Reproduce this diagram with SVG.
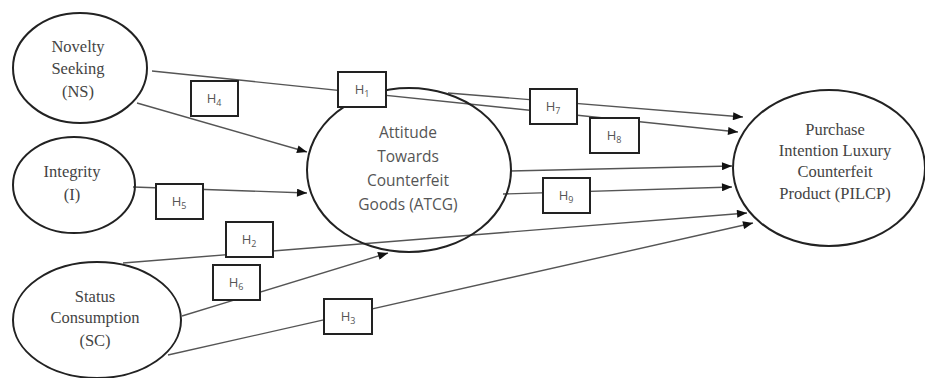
<svg xmlns="http://www.w3.org/2000/svg" width="925" height="378" viewBox="0 0 925 378">
<style>
.ell{fill:none;stroke:#222;stroke-width:2}
.ln{fill:none;stroke:#555;stroke-width:1.4}
.box{fill:#fff;stroke:#222;stroke-width:2}
.serif{font-family:"Liberation Serif","DejaVu Serif",serif;font-size:16.5px;fill:#444;text-anchor:middle}
.sans{font-family:"Open Sans","Liberation Sans",sans-serif;font-size:15.5px;fill:#555;text-anchor:middle}
.h{font-family:"Open Sans","Liberation Sans",sans-serif;font-size:13px;fill:#555;text-anchor:middle}
.sub{font-size:9px}
</style>
<defs>
<marker id="arr" viewBox="0 0 10 8" refX="10" refY="4" markerWidth="11" markerHeight="8" markerUnits="userSpaceOnUse" orient="auto">
<path d="M0,0 L10,4 L0,8 z" fill="#111"/>
</marker>
</defs>
<g id="connectors">
<line class="ln" x1="152" y1="71" x2="738" y2="132" marker-end="url(#arr)"/>
<line class="ln" x1="448" y1="93" x2="743" y2="117" marker-end="url(#arr)"/>
<line class="ln" x1="510" y1="171" x2="732" y2="166" marker-end="url(#arr)"/>
<line class="ln" x1="503" y1="194" x2="732" y2="187" marker-end="url(#arr)"/>
<line class="ln" x1="123" y1="263" x2="747" y2="213" marker-end="url(#arr)"/>
<line class="ln" x1="168" y1="355" x2="753" y2="223" marker-end="url(#arr)"/>
<line class="ln" x1="137" y1="103" x2="307" y2="152" marker-end="url(#arr)"/>
<line class="ln" x1="133" y1="187" x2="307" y2="193" marker-end="url(#arr)"/>
<line class="ln" x1="182" y1="316" x2="388" y2="253" marker-end="url(#arr)"/>
</g>
<g id="NS">
<ellipse class="ell" cx="80" cy="68" rx="67" ry="55"/>
<text class="serif" x="78" y="52">Novelty</text>
<text class="serif" x="78" y="74">Seeking</text>
<text class="serif" x="78" y="97">(NS)</text>
</g>
<g id="I">
<ellipse class="ell" cx="74" cy="185" rx="61" ry="48"/>
<text class="serif" x="72" y="177">Integrity</text>
<text class="serif" x="72" y="200">(I)</text>
</g>
<g id="SC">
<ellipse class="ell" cx="97" cy="320" rx="84" ry="58"/>
<text class="serif" x="95" y="302">Status</text>
<text class="serif" x="95" y="323">Consumption</text>
<text class="serif" x="95" y="346">(SC)</text>
</g>
<g id="ATCG">
<ellipse class="ell" cx="409" cy="170" rx="102" ry="82"/>
<text class="sans" x="408" y="138">Attitude</text>
<text class="sans" x="408" y="162">Towards</text>
<text class="sans" x="408" y="186">Counterfeit</text>
<text class="sans" x="408" y="210">Goods (ATCG)</text>
</g>
<g id="PILCP">
<ellipse class="ell" cx="829" cy="168" rx="96" ry="78"/>
<text class="serif" x="835" y="135">Purchase</text>
<text class="serif" x="835" y="156">Intention Luxury</text>
<text class="serif" x="835" y="177">Counterfeit</text>
<text class="serif" x="835" y="199">Product (PILCP)</text>
</g>
<g id="H1"><rect class="box" x="338" y="72" width="48" height="35"/><text class="h" x="362" y="94">H<tspan class="sub" dy="3">1</tspan></text></g>
<g id="H4"><rect class="box" x="191" y="81" width="47" height="35"/><text class="h" x="214" y="103">H<tspan class="sub" dy="3">4</tspan></text></g>
<g id="H7"><rect class="box" x="530" y="89" width="47" height="35"/><text class="h" x="553" y="111">H<tspan class="sub" dy="3">7</tspan></text></g>
<g id="H8"><rect class="box" x="590" y="118" width="49" height="35"/><text class="h" x="614" y="140">H<tspan class="sub" dy="3">8</tspan></text></g>
<g id="H5"><rect class="box" x="156" y="184" width="47" height="35"/><text class="h" x="179" y="206">H<tspan class="sub" dy="3">5</tspan></text></g>
<g id="H9"><rect class="box" x="543" y="178" width="47" height="35"/><text class="h" x="566" y="200">H<tspan class="sub" dy="3">9</tspan></text></g>
<g id="H2"><rect class="box" x="226" y="222" width="47" height="35"/><text class="h" x="249" y="244">H<tspan class="sub" dy="3">2</tspan></text></g>
<g id="H6"><rect class="box" x="213" y="265" width="47" height="35"/><text class="h" x="236" y="287">H<tspan class="sub" dy="3">6</tspan></text></g>
<g id="H3"><rect class="box" x="324" y="299" width="48" height="35"/><text class="h" x="348" y="321">H<tspan class="sub" dy="3">3</tspan></text></g>
</svg>
